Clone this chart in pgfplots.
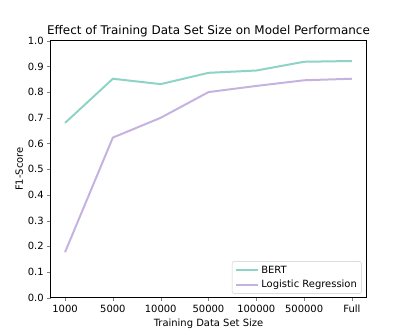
\documentclass[border=0pt]{standalone}
\usepackage{fontspec}
\setmainfont{DejaVu Sans}
\usepackage{pgfplots}
\pgfplotsset{compat=1.18}
\definecolor{bert}{HTML}{8DD3C7}
\definecolor{logreg}{HTML}{C6B2E0}
\definecolor{legframe}{HTML}{CCCCCC}

\begin{document}
\begin{tikzpicture}
\path[use as bounding box] (-50.7bp,-37.3bp) rectangle (356.3bp,297.7bp);
\begin{axis}[
  at={(0,0)}, anchor=south west,
  scale only axis,
  width=315.6bp, height=257bp,
  xmin=-0.3, xmax=6.3,
  ymin=0, ymax=1.0,
  xtick={0,1,2,3,4,5,6},
  xticklabels={1000,5000,10000,50000,100000,500000,Full},
  ytick={0,0.1,0.2,0.3,0.4,0.5,0.6,0.7,0.8,0.9,1.0},
  yticklabel style={/pgf/number format/.cd, fixed, fixed zerofill, precision=1},
  /pgf/number format/assume math mode=true,
  tick label style={font=\fontsize{10}{11}\selectfont, color=black},
  tick align=outside,
  major tick length=3.5bp,
  xtick pos=bottom, ytick pos=left,
  axis line style={line width=0.7pt},
  xlabel={Training Data Set Size},
  ylabel={F1-Score},
  label style={font=\fontsize{10}{11}\selectfont},
  xlabel style={yshift=0pt},
  ylabel style={yshift=-2pt},
  title={Effect of Training Data Set Size on Model Performance},
  title style={font=\fontsize{12}{13}\selectfont, yshift=-6pt},
  legend style={font=\fontsize{10}{11}\selectfont, at={(0.985,0.015)}, anchor=south east,
    draw=legframe, rounded corners=2pt, inner sep=2.5pt, row sep=1.5pt},
  legend cell align=left,
  legend image code/.code={\draw[#1, line width=2pt] (0cm,0cm) -- (0.8cm,0cm);},
]
\addplot[color=bert, line width=2pt]
  coordinates { (0,0.680) (1,0.852) (2,0.831) (3,0.875) (4,0.884) (5,0.918) (6,0.921) };
\addlegendentry{BERT}
\addplot[color=logreg, line width=2pt]
  coordinates { (0,0.177) (1,0.623) (2,0.700) (3,0.800) (4,0.824) (5,0.846) (6,0.852) };
\addlegendentry{Logistic Regression}
\end{axis}
\end{tikzpicture}
\end{document}
